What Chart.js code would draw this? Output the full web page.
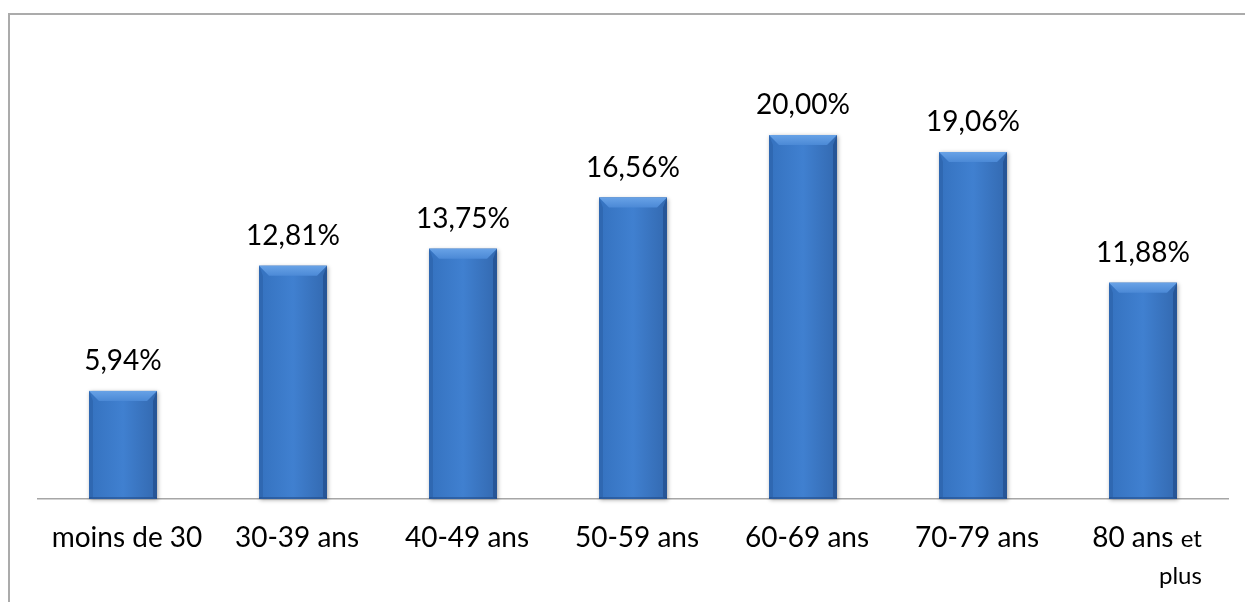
<!DOCTYPE html>
<html>
<head>
<meta charset="utf-8">
<script src="https://cdn.jsdelivr.net/npm/chart.js@4/dist/chart.umd.min.js"></script>
<style>
  html, body { margin: 0; padding: 0; background: #fff; }
  .wrap { position: relative; width: 1245px; height: 602px; overflow: hidden; }
  .frame { position: absolute; left: 8px; top: 13px; width: 1300px; height: 700px;
           border-top: 2px solid #ababab; border-left: 2px solid #ababab; }
  canvas { position: absolute; left: 0; top: 0; }
</style>
</head>
<body>
<div class="wrap">
  <div class="frame"></div>
  <canvas id="myChart" width="1245" height="602"></canvas>
</div>
<script>
const categories = ["moins de 30", "30-39 ans", "40-49 ans", "50-59 ans", "60-69 ans", "70-79 ans", "80 ans et plus"];
const values = [5.94, 12.81, 13.75, 16.56, 20.00, 19.06, 11.88];
const valueLabels = ["5,94%", "12,81%", "13,75%", "16,56%", "20,00%", "19,06%", "11,88%"];

const font = "Lato, 'Open Sans', sans-serif";

// bevelled bars, drawn over each bar element
const bevelBars = {
    id: "bevelBars",
    afterDatasetsDraw(chart) {
        const ctx = chart.ctx;
        const meta = chart.getDatasetMeta(0);
        meta.data.forEach((bar, i) => {
            const l = bar.x - bar.width / 2, r = bar.x + bar.width / 2;
            const t = bar.y, b = bar.base;
            const d = 10, s = 4;
            ctx.save();
            // soft shadow
            ctx.shadowColor = "rgba(0,0,0,0.35)";
            ctx.shadowBlur = 4;
            ctx.shadowOffsetX = 1;
            ctx.shadowOffsetY = 1;
            const g = ctx.createLinearGradient(l, 0, r, 0);
            g.addColorStop(0, "#3572bf");
            g.addColorStop(0.5, "#4080d0");
            g.addColorStop(1, "#3369b0");
            ctx.fillStyle = g;
            ctx.fillRect(l, t, r - l, b - t);
            ctx.restore();

            ctx.save();
            // top bevel
            const gt = ctx.createLinearGradient(0, t, 0, t + d);
            gt.addColorStop(0, "#68a2e6");
            gt.addColorStop(1, "#4b89d6");
            ctx.fillStyle = gt;
            ctx.beginPath();
            ctx.moveTo(l, t); ctx.lineTo(r, t); ctx.lineTo(r - d, t + d); ctx.lineTo(l + d, t + d);
            ctx.closePath(); ctx.fill();
            // left edge
            ctx.fillStyle = "rgba(40,90,160,0.45)";
            ctx.beginPath();
            ctx.moveTo(l, t); ctx.lineTo(l + s, t + d); ctx.lineTo(l + s, b - 2); ctx.lineTo(l, b);
            ctx.closePath(); ctx.fill();
            // right edge
            ctx.fillStyle = "rgba(30,70,130,0.55)";
            ctx.beginPath();
            ctx.moveTo(r, t); ctx.lineTo(r - s, t + d); ctx.lineTo(r - s, b - 2); ctx.lineTo(r, b);
            ctx.closePath(); ctx.fill();
            // bottom edge
            ctx.fillStyle = "rgba(30,70,130,0.5)";
            ctx.fillRect(l, b - 2, r - l, 2);
            ctx.restore();

            // value label
            ctx.save();
            ctx.fillStyle = "#000";
            ctx.font = "28px " + font;
            ctx.textAlign = "center";
            ctx.textBaseline = "alphabetic";
            ctx.fillText(valueLabels[i], bar.x, t - 21);
            ctx.restore();
        });

        // category labels
        const xs = chart.scales.x;
        ctx.save();
        ctx.fillStyle = "#000";
        ctx.textBaseline = "middle";
        categories.forEach((c, i) => {
            const x = xs.getPixelForValue(i);
            if (c === "80 ans et plus") {
                ctx.font = "28px " + font;
                const w1 = ctx.measureText("80 ans ").width;
                ctx.font = "24px " + font;
                const w2 = ctx.measureText("et").width;
                const left = x + 4 - (w1 + w2) / 2;
                ctx.textAlign = "left";
                ctx.font = "28px " + font;
                ctx.fillText("80 ans ", left, 538);
                ctx.font = "24px " + font;
                ctx.fillText("et", left + w1, 539);
                ctx.textAlign = "right";
                ctx.fillText("plus", left + w1 + w2, 576);
            } else {
                ctx.font = "28px " + font;
                ctx.textAlign = "center";
                ctx.fillText(c, x + 4, 538);
            }
        });
        ctx.restore();
    }
};

const ctx = document.getElementById("myChart").getContext("2d");
const myChart = new Chart(ctx, {
    type: "bar",
    data: {
        labels: categories,
        datasets: [
            {
                data: values,
                backgroundColor: "#3d7cc9",
                borderWidth: 0,
                barPercentage: 0.4,
                categoryPercentage: 1.0,
            },
        ],
    },
    options: {
        responsive: false,
        animation: false,
        layout: { padding: { left: 38, right: 17, top: 44, bottom: 103 } },
        plugins: { legend: { display: false }, tooltip: { enabled: false } },
        scales: {
            x: {
                grid: { display: false, drawTicks: false },
                border: { display: true, color: "#a6a6a6", width: 1.5 },
                ticks: { display: false },
            },
            y: {
                display: false,
                min: 0,
                max: 25,
            },
        },
    },
    plugins: [bevelBars],
});
</script>
</body>
</html>
